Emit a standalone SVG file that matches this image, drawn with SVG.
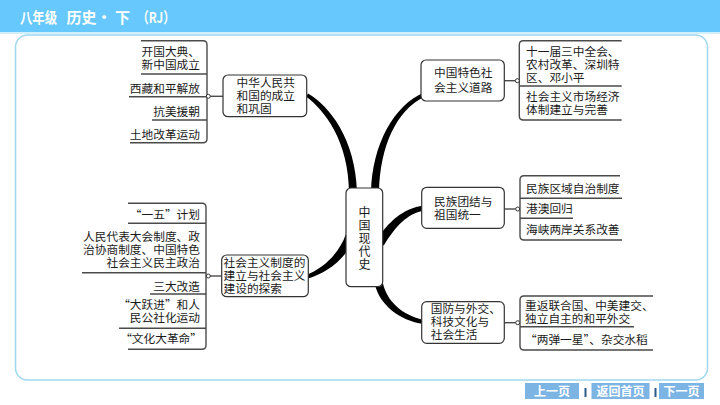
<svg xmlns="http://www.w3.org/2000/svg" width="720" height="405" viewBox="0 0 720 405">
<style>
.t{font-family:"Noto Sans CJK SC","Liberation Sans",sans-serif;font-size:11.7px;fill:#1a1a1a}
.e{text-anchor:end}
.c{text-anchor:middle}
.hdr{font-family:"Noto Sans CJK SC","Liberation Sans",sans-serif;font-size:15px;font-weight:bold;fill:#ffffff}
.btn{font-family:"Noto Sans CJK SC","Liberation Sans",sans-serif;font-size:12px;font-weight:bold;fill:#ffffff;text-anchor:middle}
.box{fill:#ffffff;stroke:#333333;stroke-width:1.2}
.ln{fill:none;stroke:#4a4a4a;stroke-width:1.4}
.dot{fill:#ffffff;stroke:#333333;stroke-width:1}
.br{fill:#000000}
</style>
<rect x="0" y="0" width="720" height="405" fill="#ffffff"/>
<g id="header">
<rect x="0" y="0" width="720" height="32" fill="#66c8fd"/>
<rect x="0" y="32" width="720" height="2" fill="#d2effc"/>
<text class="hdr" x="20" y="23" textLength="37" lengthAdjust="spacingAndGlyphs">八年级</text>
<text class="hdr" x="66.5" y="23">历史·</text>
<text class="hdr" x="115" y="23">下</text>
<text class="hdr" x="137" y="23" textLength="38" lengthAdjust="spacingAndGlyphs">（RJ）</text>
</g>
<rect x="15.5" y="35" width="692" height="345" rx="12" fill="#ffffff" stroke="#9fd8f0" stroke-width="1.5"/>
<g id="connectors">
<path class="br" d="M308,93.6 C329,105.5 355.5,139 357,192 L349,192 C348.5,141 325,110.5 306,96.4 Z"/>
<path class="br" d="M371,192 C372,145 394,105 424,92.5 L424,97 C396.5,110.5 380,146 379,192 Z"/>
<path class="br" d="M376.2,240.6 C388.5,221.5 403,208.5 423.6,205.5 L424.4,210.5 C407,213.5 395.5,226.5 383.8,245.4 Z"/>
<path class="br" d="M382.9,283.1 C386.5,300 401,315.5 424.3,320 L423.7,324 C399,320.5 379.5,304 375.1,284.9 Z"/>
<path class="br" d="M305.4,275.1 C325,268.5 340.5,250.5 345.7,234.6 L354.3,237.4 C347.5,257.5 327,273.5 306.6,278.9 Z"/>
<path class="ln" d="M141,40.7 H203 Q207,40.7 207,44.7 V138.7 Q207,142.7 203,142.7 H130"/>
<path class="ln" d="M128,203.3 H202 Q206,203.3 206,207.3 V345.3 Q206,349.3 202,349.3 H128"/>
<path class="ln" d="M621.7,40.7 H523.3 Q519.3,40.7 519.3,44.7 V116 Q519.3,120 523.3,120 H621.7"/>
<path class="ln" d="M620,175.7 H524 Q520,175.7 520,179.7 V236 Q520,240 524,240 H622"/>
<path class="ln" d="M653,296 H524 Q520,296 520,300 V346 Q520,350 524,350 H653"/>
<line class="ln" x1="210" y1="96.3" x2="223" y2="96.3"/>
<circle class="dot" cx="208.3" cy="96.3" r="2"/>
<line class="ln" x1="210" y1="276" x2="221.7" y2="276"/>
<circle class="dot" cx="208.3" cy="276" r="2"/>
<line class="ln" x1="504.3" y1="80.7" x2="515.3" y2="80.7"/>
<circle class="dot" cx="517.3" cy="80.7" r="2"/>
<line class="ln" x1="504.3" y1="209" x2="515.7" y2="209"/>
<circle class="dot" cx="517.7" cy="209" r="2"/>
<line class="ln" x1="504.3" y1="322.7" x2="515.7" y2="322.7"/>
<circle class="dot" cx="517.7" cy="322.7" r="2"/>
</g>
<g id="center">
<rect class="box" x="346" y="188" width="36.7" height="98.7" rx="5"/>
<text class="t c" style="font-size:12px"><tspan x="364.4" y="216.5">中</tspan><tspan x="364.4" y="229.5">国</tspan><tspan x="364.4" y="242.5">现</tspan><tspan x="364.4" y="255.5">代</tspan><tspan x="364.4" y="268.5">史</tspan></text>
</g>
<g id="n1">
<rect class="box" x="223" y="75" width="83.7" height="41.7" rx="5"/>
<text class="t"><tspan x="236.5" y="87.4">中华人民共</tspan><tspan x="236.5" y="100.4">和国的成立</tspan><tspan x="236.5" y="113.4">和巩固</tspan></text>
</g>
<g id="n2">
<rect class="box" x="421" y="60" width="83.3" height="41" rx="5"/>
<text class="t"><tspan x="434" y="77.1">中国特色社</tspan><tspan x="434" y="91.7">会主义道路</tspan></text>
</g>
<g id="n3">
<rect class="box" x="421.7" y="187.3" width="82.6" height="41" rx="5"/>
<text class="t"><tspan x="434" y="205.9">民族团结与</tspan><tspan x="434" y="219.4">祖国统一</tspan></text>
</g>
<g id="n4">
<rect class="box" x="421.7" y="301.7" width="82.6" height="41.6" rx="5"/>
<text class="t"><tspan x="430.7" y="312.7">国防与外交、</tspan><tspan x="430.7" y="326.1">科技文化与</tspan><tspan x="430.7" y="339.4">社会生活</tspan></text>
</g>
<g id="n5">
<rect class="box" x="221.7" y="255" width="86.6" height="41.7" rx="5"/>
<text class="t"><tspan x="223.5" y="267.4">社会主义制度的</tspan><tspan x="223.5" y="280.4">建立与社会主义</tspan><tspan x="223.5" y="293.4">建设的探索</tspan></text>
</g>
<g id="leaf-l1-1">
<text class="t e"><tspan x="200" y="56.1">开国大典、</tspan><tspan x="200" y="69.4">新中国成立</tspan></text>
<line class="ln" x1="141" y1="74" x2="207" y2="74"/>
</g>
<g id="leaf-l1-2">
<text class="t e" x="200" y="92.7">西藏和平解放</text>
<line class="ln" x1="129" y1="96.7" x2="207" y2="96.7"/>
</g>
<g id="leaf-l1-3">
<text class="t e" x="200" y="116.1">抗美援朝</text>
<line class="ln" x1="152" y1="120" x2="207" y2="120"/>
</g>
<g id="leaf-l1-4">
<text class="t e" x="200" y="139.4">土地改革运动</text>
</g>
<g id="leaf-l2-1">
<text class="t e" x="200" y="219.4">“一五”计划</text>
<line class="ln" x1="128" y1="223.3" x2="206" y2="223.3"/>
</g>
<g id="leaf-l2-2">
<text class="t e"><tspan x="200" y="241.4">人民代表大会制度、政</tspan><tspan x="200" y="254.4">治协商制度、中国特色</tspan><tspan x="200" y="267.4">社会主义民主政治</tspan></text>
<line class="ln" x1="82" y1="272.7" x2="206" y2="272.7"/>
</g>
<g id="leaf-l2-3">
<text class="t e" x="200" y="291.1">三大改造</text>
<line class="ln" x1="150" y1="294" x2="206" y2="294"/>
</g>
<g id="leaf-l2-4">
<text class="t e"><tspan x="200" y="309.4">“大跃进”和人</tspan><tspan x="200" y="322.4">民公社化运动</tspan></text>
<line class="ln" x1="119" y1="328.3" x2="206" y2="328.3"/>
</g>
<g id="leaf-l2-5">
<text class="t e" x="202" y="343.2">“文化大革命”</text>
</g>
<g id="leaf-r1-1">
<text class="t"><tspan x="526" y="55.9">十一届三中全会、</tspan><tspan x="526" y="69.2">农村改革、深圳特</tspan><tspan x="526" y="82.4">区、邓小平</tspan></text>
<line class="ln" x1="519.3" y1="86" x2="621.7" y2="86"/>
</g>
<g id="leaf-r1-2">
<text class="t"><tspan x="526" y="100.9">社会主义市场经济</tspan><tspan x="526" y="113.9">体制建立与完善</tspan></text>
</g>
<g id="leaf-r2-1">
<text class="t" x="526" y="192.7">民族区域自治制度</text>
<line class="ln" x1="520" y1="198.3" x2="622" y2="198.3"/>
</g>
<g id="leaf-r2-2">
<text class="t" x="526" y="212.9">港澳回归</text>
<line class="ln" x1="520" y1="218.3" x2="573" y2="218.3"/>
</g>
<g id="leaf-r2-3">
<text class="t" x="526" y="234.4">海峡两岸关系改善</text>
</g>
<g id="leaf-r3-1">
<text class="t"><tspan x="525" y="309.9">重返联合国、中美建交、</tspan><tspan x="525" y="322.9">独立自主的和平外交</tspan></text>
<line class="ln" x1="520" y1="326.7" x2="634" y2="326.7"/>
</g>
<g id="leaf-r3-2">
<text class="t" x="525" y="343.7">“两弹一星”、杂交水稻</text>
</g>
<g id="nav">
<rect x="525" y="383" width="54" height="16" fill="#7cb4e4"/>
<text class="btn" x="552" y="395.5">上一页</text>
<rect x="584.5" y="388" width="2" height="9" fill="#2a5a8a"/>
<rect x="591.5" y="383" width="58" height="16" fill="#7cb4e4"/>
<text class="btn" x="620.5" y="395.5">返回首页</text>
<rect x="654.5" y="388" width="2" height="9" fill="#2a5a8a"/>
<rect x="659" y="383" width="45" height="16" fill="#7cb4e4"/>
<text class="btn" x="681.5" y="395.5">下一页</text>
</g>
</svg>
